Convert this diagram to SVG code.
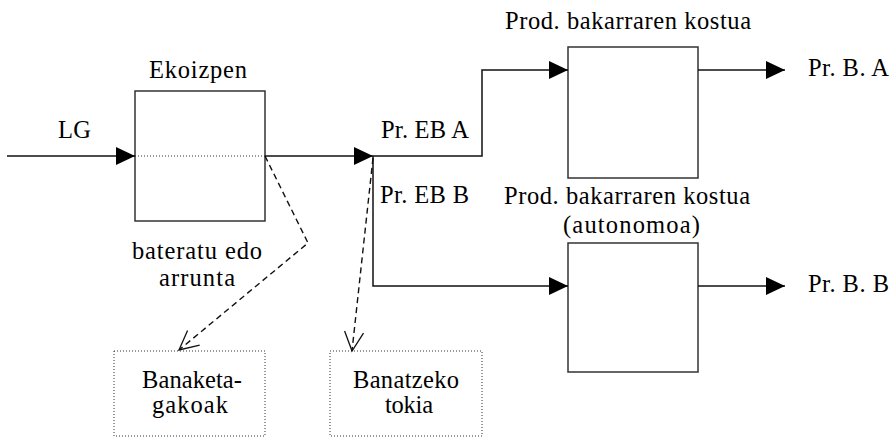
<svg xmlns="http://www.w3.org/2000/svg" width="895" height="437" viewBox="0 0 895 437">
<style>
.t{font-family:'Liberation Serif', serif;font-size:24.5px;fill:#000}
.box{fill:#fff;stroke:#333;stroke-width:1.5}
.dbox{fill:#fff;stroke:#333;stroke-width:1;stroke-dasharray:1 2}
.ln{fill:none;stroke:#111;stroke-width:1.5}
.dash{fill:none;stroke:#111;stroke-width:1.4;stroke-dasharray:6 4}
.dot{fill:none;stroke:#333;stroke-width:1;stroke-dasharray:1 2}
</style>
<defs>
<marker id="fa" markerUnits="userSpaceOnUse" markerWidth="22" markerHeight="22" viewBox="-20 -10 22 20" refX="0" refY="0" orient="auto">
<path d="M-19,-9 L0,0 L-19,9 Z" fill="#000"/>
</marker>
<marker id="oa" markerUnits="userSpaceOnUse" markerWidth="22" markerHeight="22" viewBox="-20 -11 22 22" refX="0" refY="0" orient="auto">
<path d="M-19,-9.5 L0,0 L-19,9.5" fill="none" stroke="#111" stroke-width="1.3" stroke-dasharray="none"/>
</marker>
</defs>
<g id="ekoizpen">
<rect class="box" x="135" y="91" width="130" height="130"/>
<line class="dot" x1="135" y1="156" x2="265" y2="156"/>
<text class="t" x="149" y="78" textLength="98" lengthAdjust="spacing">Ekoizpen</text>
</g>
<g id="prodA">
<rect class="box" x="568" y="47" width="130" height="131"/>
<text class="t" x="505" y="29" textLength="246" lengthAdjust="spacing">Prod. bakarraren kostua</text>
</g>
<g id="prodB">
<rect class="box" x="568" y="243" width="130" height="129"/>
<text class="t" x="504" y="204" textLength="246" lengthAdjust="spacing">Prod. bakarraren kostua</text>
<text class="t" x="563" y="233" textLength="137" lengthAdjust="spacing">(autonomoa)</text>
</g>
<g id="banaketa">
<rect class="dbox" x="114" y="351" width="151" height="85"/>
<text class="t" x="142" y="388" textLength="100" lengthAdjust="spacing">Banaketa-</text>
<text class="t" x="152" y="413" textLength="76" lengthAdjust="spacing">gakoak</text>
</g>
<g id="banatzeko">
<rect class="dbox" x="330" y="351" width="152" height="85"/>
<text class="t" x="353" y="388" textLength="106" lengthAdjust="spacing">Banatzeko</text>
<text class="t" x="385" y="413" textLength="48" lengthAdjust="spacing">tokia</text>
</g>
<g id="connectors">
<line class="ln" x1="7" y1="156" x2="135" y2="156" marker-end="url(#fa)"/>
<line class="ln" x1="265" y1="156" x2="373" y2="156" marker-end="url(#fa)"/>
<polyline class="ln" points="373,156 482,156 482,70 568,70" marker-end="url(#fa)"/>
<polyline class="ln" points="373,156 373,286 568,286" marker-end="url(#fa)"/>
<line class="ln" x1="698" y1="70" x2="785" y2="70" marker-end="url(#fa)"/>
<line class="ln" x1="698" y1="286" x2="785" y2="286" marker-end="url(#fa)"/>
<polyline class="dash" points="265,156 308,243 179,350" marker-end="url(#oa)"/>
<line class="dash" x1="373" y1="158" x2="352" y2="351" marker-end="url(#oa)"/>
</g>
<g id="labels">
<text class="t" x="58" y="138" textLength="33" lengthAdjust="spacing">LG</text>
<text class="t" x="381" y="138" textLength="88" lengthAdjust="spacing">Pr. EB A</text>
<text class="t" x="380" y="203" textLength="89" lengthAdjust="spacing">Pr. EB B</text>
<text class="t" x="808" y="76" textLength="81" lengthAdjust="spacing">Pr. B. A</text>
<text class="t" x="808" y="292" textLength="81" lengthAdjust="spacing">Pr. B. B</text>
<text class="t" x="132" y="259" textLength="130" lengthAdjust="spacing">bateratu edo</text>
<text class="t" x="159" y="286" textLength="76" lengthAdjust="spacing">arrunta</text>
</g>
</svg>
